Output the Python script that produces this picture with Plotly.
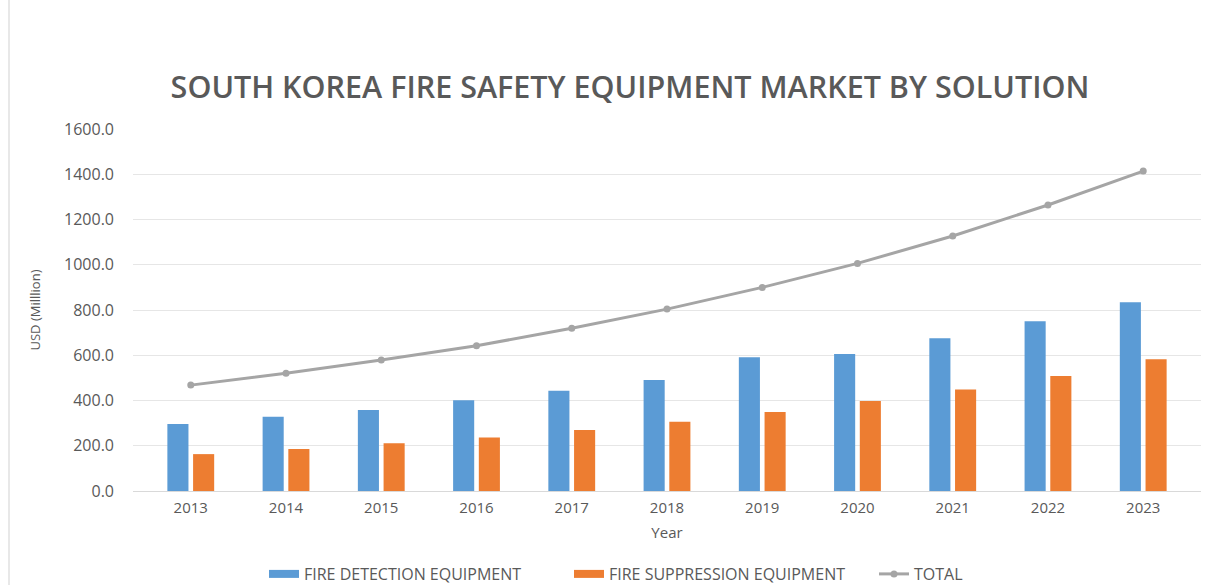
import plotly.graph_objects as go

# Market size by solution, USD million
years = ["2013", "2014", "2015", "2016", "2017", "2018", "2019", "2020", "2021", "2022", "2023"]
fire_detection = [296, 328, 358, 401, 443, 491, 591, 606, 675, 750, 834]
fire_suppression = [163, 186, 211, 237, 270, 306, 349, 398, 449, 508, 582]
total = [468, 520, 579, 642, 719, 804, 900, 1006, 1127, 1264, 1414]
y_ticks = [0, 200, 400, 600, 800, 1000, 1200, 1400, 1600]

BLUE, ORANGE, GREY = "#5B9BD5", "#ED7D31", "#A5A5A5"
TEXT = "#595959"
FONT = "Open Sans"

fig = go.Figure()
fig.add_trace(go.Bar(x=years, y=fire_detection, name="FIRE DETECTION EQUIPMENT",
                     legendgroup="det", showlegend=False,
                     marker=dict(color=BLUE, line=dict(width=0))))
fig.add_trace(go.Bar(x=years, y=fire_suppression, name="FIRE SUPPRESSION EQUIPMENT",
                     legendgroup="sup", showlegend=False,
                     marker=dict(color=ORANGE, line=dict(width=0))))
fig.add_trace(go.Scatter(x=years, y=total, name="TOTAL", mode="lines+markers",
                         legendgroup="tot", showlegend=False,
                         line=dict(color=GREY, width=3),
                         marker=dict(color=GREY, size=7)))

# Legend keys: wide flat swatches for the bar series, line-and-marker for the total
fig.add_trace(go.Scatter(x=[None], y=[None], mode="lines", name="FIRE DETECTION EQUIPMENT",
                         legendgroup="det", line=dict(color=BLUE, width=8)))
fig.add_trace(go.Scatter(x=[None], y=[None], mode="lines", name="FIRE SUPPRESSION EQUIPMENT",
                         legendgroup="sup", line=dict(color=ORANGE, width=8)))
fig.add_trace(go.Scatter(x=[None], y=[None], mode="lines+markers", name="TOTAL",
                         legendgroup="tot", line=dict(color=GREY, width=3),
                         marker=dict(color=GREY, size=7)))

W, H = 1211, 585
L, R, T, B = 133, 10, 129, 94
PW, PH = W - L - R, H - T - B

fig.update_layout(
    width=W, height=H,
    margin=dict(l=L, r=R, t=T, b=B, autoexpand=False),
    paper_bgcolor="white", plot_bgcolor="white",
    barmode="group", bargap=0.46, bargroupgap=0.18,
    title=dict(text="SOUTH KOREA FIRE SAFETY EQUIPMENT MARKET BY SOLUTION",
               x=(630 - L) / PW, xanchor="center", xref="paper",
               y=1 - 87 / H, yanchor="middle",
               font=dict(family=FONT, size=30.5, weight=600, color=TEXT)),
    font=dict(family=FONT, color=TEXT),
    showlegend=True,
    legend=dict(orientation="h", x=(264 - L) / PW, xanchor="left",
                y=-(574 - (H - B)) / PH, yanchor="middle",
                font=dict(family=FONT, size=16, color=TEXT),
                itemwidth=30, entrywidth=260, entrywidthmode="pixels",
                traceorder="normal"),
    xaxis=dict(type="category", showgrid=False, showline=True, linecolor="#D9D9D9",
               linewidth=1, ticks="", automargin=False, ticklabelstandoff=3,
               tickfont=dict(family=FONT, size=15, color=TEXT),
               title=dict(text="Year", font=dict(family=FONT, size=15, color=TEXT), standoff=11)),
    yaxis=dict(range=[0, 1600], tickvals=y_ticks,
               ticktext=[f"{v:.1f}" for v in y_ticks],
               showgrid=True, gridcolor="#E6E6E6", gridwidth=1, zeroline=False,
               showline=False, ticks="", automargin=False, ticklabelstandoff=18,
               tickfont=dict(family=FONT, size=16, color=TEXT),
               title=dict(text="USD (Milllion)", font=dict(family=FONT, size=13, color=TEXT),
                          standoff=20)),
    shapes=[dict(type="line", xref="paper", yref="paper",
                 x0=(9 - L) / PW, x1=(9 - L) / PW,
                 y0=-B / PH, y1=1 + T / PH,
                 line=dict(color="#E8E8E8", width=2))],
)

fig.write_html("out.html")
